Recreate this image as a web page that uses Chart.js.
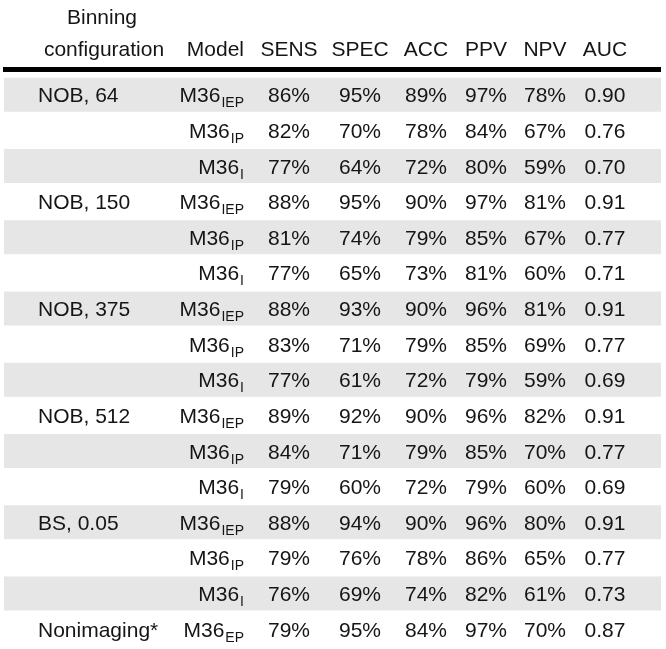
<!DOCTYPE html>
<html>
<head>
<meta charset="utf-8">
<script src="https://cdn.jsdelivr.net/npm/chart.js@4"></script>
<style>
  html, body { margin: 0; padding: 0; background: #fff; }
  #wrap { width: 666px; height: 649px; position: relative; }
</style>
</head>
<body>
<div id="wrap"><canvas id="tableChart"></canvas></div>
<script>
// Table content
const headers = ['Model', 'SENS', 'SPEC', 'ACC', 'PPV', 'NPV', 'AUC'];
const binning = ['NOB, 64', '', '', 'NOB, 150', '', '', 'NOB, 375', '', '', 'NOB, 512', '', '', 'BS, 0.05', '', '', 'Nonimaging*'];
const modelSub = ['IEP', 'IP', 'I', 'IEP', 'IP', 'I', 'IEP', 'IP', 'I', 'IEP', 'IP', 'I', 'IEP', 'IP', 'I', 'EP'];
const sens = [86, 82, 77, 88, 81, 77, 88, 83, 77, 89, 84, 79, 88, 79, 76, 79];
const spec = [95, 70, 64, 95, 74, 65, 93, 71, 61, 92, 71, 60, 94, 76, 69, 95];
const acc  = [89, 78, 72, 90, 79, 73, 90, 79, 72, 90, 79, 72, 90, 78, 74, 84];
const ppv  = [97, 84, 80, 97, 85, 81, 96, 85, 79, 96, 85, 79, 96, 86, 82, 97];
const npv  = [78, 67, 59, 81, 67, 60, 81, 69, 59, 82, 70, 60, 80, 65, 61, 70];
const auc  = [0.90, 0.76, 0.70, 0.91, 0.77, 0.71, 0.91, 0.77, 0.69, 0.91, 0.77, 0.69, 0.91, 0.77, 0.73, 0.87];

const rowLabels = binning.map((b, i) => 'row' + i);
const stripes = binning.map((b, i) => i % 2 === 0 ? 1 : null);  // gray every other row

const FONT = '"Liberation Sans", Arial, Helvetica, sans-serif';
const TEXT = '#151515';
const colX = { bin: 38, modelRight: 244, sens: 289, spec: 360, acc: 426, ppv: 486, npv: 545, auc: 605 };

// draws header, rule and cell text on top of the striped bars
const tablePlugin = {
  id: 'tableText',
  afterDatasetsDraw(chart) {
    const ctx = chart.ctx;
    const y = chart.scales.y;
    ctx.save();
    ctx.fillStyle = TEXT;
    ctx.textBaseline = 'alphabetic';

    // header
    ctx.font = '21px ' + FONT;
    ctx.textAlign = 'center';
    ctx.fillText('Binning', 102, 24);
    ctx.fillText('configuration', 104, 56);
    ctx.textAlign = 'right';
    ctx.fillText(headers[0], colX.modelRight, 56);
    ctx.textAlign = 'center';
    ['sens', 'spec', 'acc', 'ppv', 'npv', 'auc'].forEach((k, i) => {
      ctx.fillText(headers[i + 1], colX[k], 56);
    });

    // thick rule
    ctx.fillStyle = '#000';
    ctx.fillRect(3, 67, 658, 5);
    ctx.fillStyle = TEXT;

    binning.forEach((b, i) => {
      const base = y.getPixelForValue(i) + 7.5;
      ctx.font = '21px ' + FONT;
      ctx.textAlign = 'left';
      if (b) ctx.fillText(b, colX.bin, base);

      // model name with subscript, right aligned
      const mainW = ctx.measureText('M36').width;
      ctx.font = '14px ' + FONT;
      const subW = ctx.measureText(modelSub[i]).width;
      const start = colX.modelRight - mainW - subW - 1;
      ctx.fillText(modelSub[i], start + mainW + 1, base + 5);
      ctx.font = '21px ' + FONT;
      ctx.fillText('M36', start, base);

      ctx.textAlign = 'center';
      ctx.fillText(sens[i] + '%', colX.sens, base);
      ctx.fillText(spec[i] + '%', colX.spec, base);
      ctx.fillText(acc[i] + '%', colX.acc, base);
      ctx.fillText(ppv[i] + '%', colX.ppv, base);
      ctx.fillText(npv[i] + '%', colX.npv, base);
      ctx.fillText(auc[i].toFixed(2), colX.auc, base);
    });
    ctx.restore();
  }
};

new Chart(document.getElementById('tableChart').getContext('2d'), {
  type: 'bar',
  data: {
    labels: rowLabels,
    datasets: [{
      data: stripes,
      backgroundColor: '#e6e6e6',
      borderWidth: 0,
      barPercentage: 0.955,
      categoryPercentage: 1
    }]
  },
  options: {
    indexAxis: 'y',
    responsive: true,
    maintainAspectRatio: false,
    animation: false,
    layout: { padding: { left: 4, right: 5, top: 77, bottom: 2 } },
    scales: {
      x: { display: false, min: 0, max: 1 },
      y: { display: false }
    },
    plugins: {
      legend: { display: false },
      tooltip: { enabled: false }
    }
  },
  plugins: [tablePlugin]
});
</script>
</body>
</html>
